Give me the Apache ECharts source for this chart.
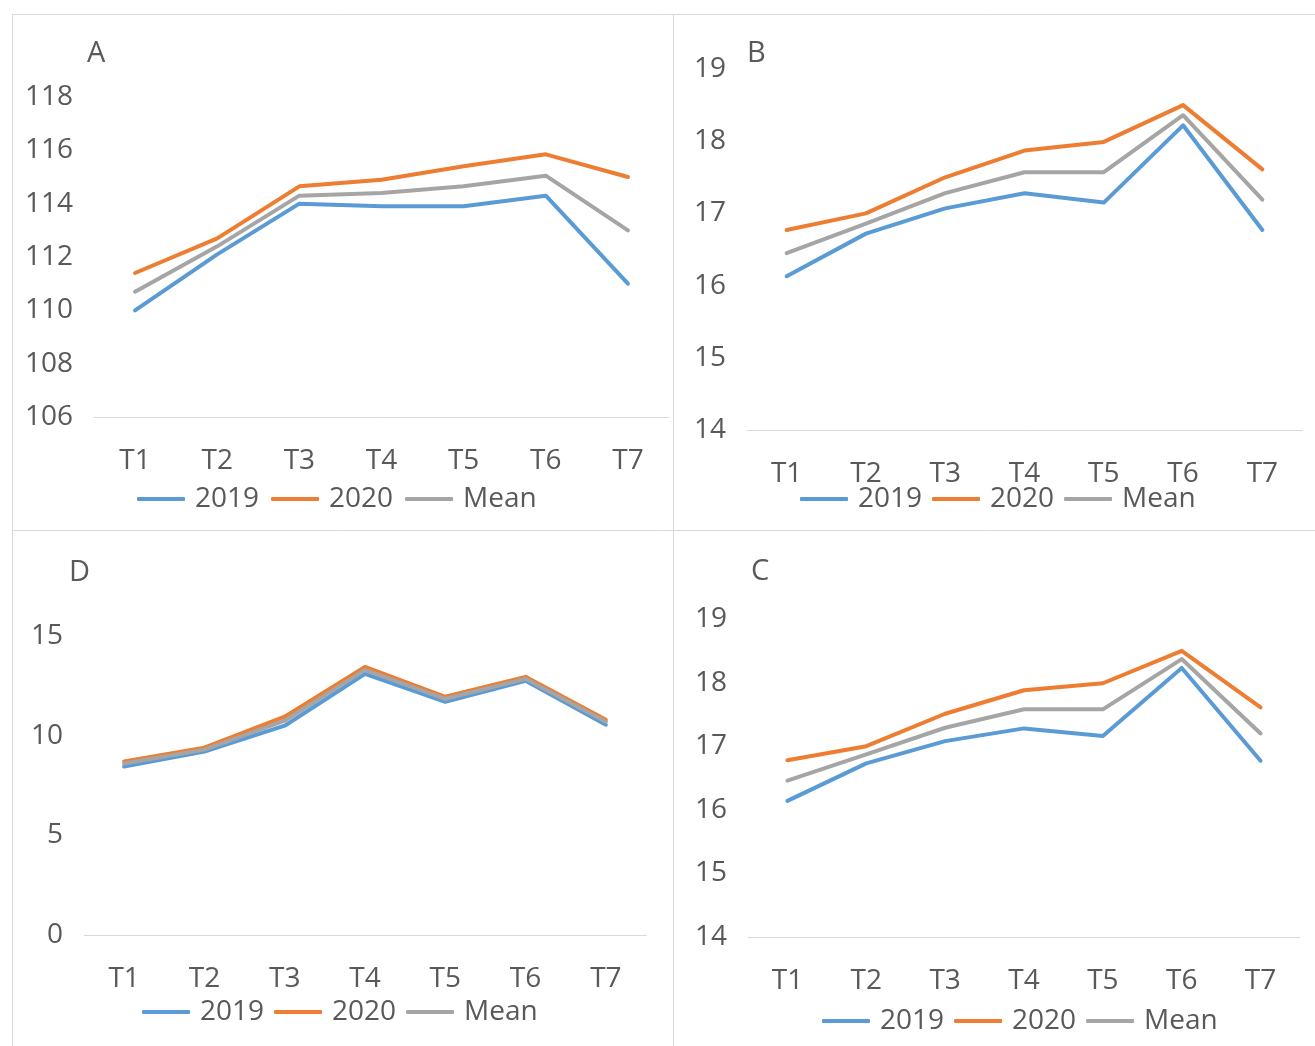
<!DOCTYPE html>
<html>
<head>
<meta charset="utf-8">
<script src="https://cdn.jsdelivr.net/npm/echarts@6/dist/echarts.min.js"></script>
<style>
  html, body { margin: 0; padding: 0; background: #ffffff; }
  #chart { width: 1315px; height: 1046px; }
</style>
</head>
<body>
<div id="chart"></div>
<script>
// ---- Data ----
const categories = ['T1', 'T2', 'T3', 'T4', 'T5', 'T6', 'T7'];
const seriesNames = ['2019', '2020', 'Mean'];

// Panel A
const a2019 = [110.0, 112.1, 114.0, 113.9, 113.9, 114.3, 111.0];
const a2020 = [111.4, 112.7, 114.65, 114.9, 115.4, 115.85, 115.0];
const aMean = [110.7, 112.4, 114.3, 114.4, 114.65, 115.05, 113.0];

// Panel B
const b2019 = [16.13, 16.72, 17.07, 17.28, 17.15, 18.22, 16.77];
const b2020 = [16.77, 17.0, 17.5, 17.87, 17.99, 18.5, 17.61];
const bMean = [16.45, 16.86, 17.28, 17.57, 17.57, 18.36, 17.19];

// Panel C
const c2019 = [16.14, 16.73, 17.08, 17.28, 17.16, 18.23, 16.77];
const c2020 = [16.78, 17.0, 17.51, 17.88, 17.99, 18.5, 17.61];
const cMean = [16.46, 16.87, 17.29, 17.58, 17.58, 18.37, 17.2];

// Panel D
const d2019 = [8.45, 9.2, 10.5, 13.1, 11.7, 12.75, 10.55];
const d2020 = [8.7, 9.4, 10.95, 13.45, 11.95, 12.95, 10.8];
const dMean = [8.6, 9.3, 10.75, 13.3, 11.85, 12.85, 10.7];

// Axis ranges (min, max, interval)
const aAxis = [106, 118, 2];
const bAxis = [14, 19, 1];
const cAxis = [14, 19, 1];
const dAxis = [0, 15, 5];

// ---- Styling ----
const colors = ['#5B9BD5', '#ED7D31', '#A5A5A5'];
const textColor = '#595959';
const fontFamily = '"Open Sans", "Noto Sans", sans-serif';
const fontSize = 28;
const borderColor = '#D9D9D9';

const panels = [
  { key: 'A', data: [a2019, a2020, aMean], axis: aAxis,
    grid: { left: 94, top: 97, width: 575, height: 320 },
    title: { left: 87, top: 40 }, legend: { left: 137, top: 485, gap: 12 } },
  { key: 'B', data: [b2019, b2020, bMean], axis: bAxis,
    grid: { left: 747, top: 69, width: 555, height: 361 },
    title: { left: 747, top: 40 }, legend: { left: 800, top: 485, gap: 10 } },
  { key: 'D', data: [d2019, d2020, dMean], axis: dAxis,
    grid: { left: 84, top: 636, width: 562, height: 299 },
    title: { left: 69, top: 559 }, legend: { left: 142, top: 998, gap: 10 } },
  { key: 'C', data: [c2019, c2020, cMean], axis: cAxis,
    grid: { left: 748, top: 619, width: 552, height: 318 },
    title: { left: 751, top: 558 }, legend: { left: 822, top: 1007, gap: 10 } }
];

const grid = [], xAxis = [], yAxis = [], series = [], title = [], legend = [];

panels.forEach((p, i) => {
  grid.push(Object.assign({ containLabel: false }, p.grid));
  xAxis.push({
    type: 'category', gridIndex: i, data: categories, boundaryGap: true,
    axisLine: { show: true, lineStyle: { color: borderColor, width: 1 } },
    axisTick: { show: false },
    axisLabel: { color: textColor, fontFamily, fontSize, margin: 30 },
    splitLine: { show: false }
  });
  yAxis.push({
    type: 'value', gridIndex: i, min: p.axis[0], max: p.axis[1], interval: p.axis[2],
    axisLine: { show: false }, axisTick: { show: false },
    axisLabel: { color: textColor, fontFamily, fontSize, margin: 21, padding: [4, 0, 0, 0] },
    splitLine: { show: false }
  });
  title.push({
    text: p.key, left: p.title.left, top: p.title.top, padding: 0,
    textStyle: { color: textColor, fontFamily, fontSize: 29, fontWeight: 'normal', lineHeight: 28 }
  });
  legend.push({
    left: p.legend.left, top: p.legend.top, padding: 0, itemGap: p.legend.gap,
    itemWidth: 48, itemHeight: 4, icon: 'roundRect',
    data: seriesNames.map((n, k) => ({ name: p.key + n, itemStyle: { color: colors[k] } })),
    formatter: (name) => name.slice(1),
    textStyle: { color: textColor, fontFamily, fontSize, lineHeight: 28, padding: [0, 0, 0, 5] }
  });
  p.data.forEach((vals, k) => {
    series.push({
      name: p.key + seriesNames[k], type: 'line', xAxisIndex: i, yAxisIndex: i,
      data: vals, showSymbol: false, symbol: 'none', smooth: false,
      lineStyle: { color: colors[k], width: 4, cap: 'round', join: 'round' },
      itemStyle: { color: colors[k] },
      animation: false
    });
  });
});

const chart = echarts.init(document.getElementById('chart'), null, { renderer: 'canvas' });
chart.setOption({
  backgroundColor: '#ffffff',
  animation: false,
  title, legend, grid, xAxis, yAxis, series,
  graphic: [
    { type: 'line', shape: { x1: 12, y1: 14.5, x2: 1315, y2: 14.5 }, style: { stroke: borderColor, lineWidth: 1 } },
    { type: 'line', shape: { x1: 12.5, y1: 14, x2: 12.5, y2: 1046 }, style: { stroke: borderColor, lineWidth: 1 } },
    { type: 'line', shape: { x1: 673.5, y1: 14, x2: 673.5, y2: 1046 }, style: { stroke: borderColor, lineWidth: 1 } },
    { type: 'line', shape: { x1: 12, y1: 530.5, x2: 1315, y2: 530.5 }, style: { stroke: borderColor, lineWidth: 1 } }
  ]
});
</script>
</body>
</html>
